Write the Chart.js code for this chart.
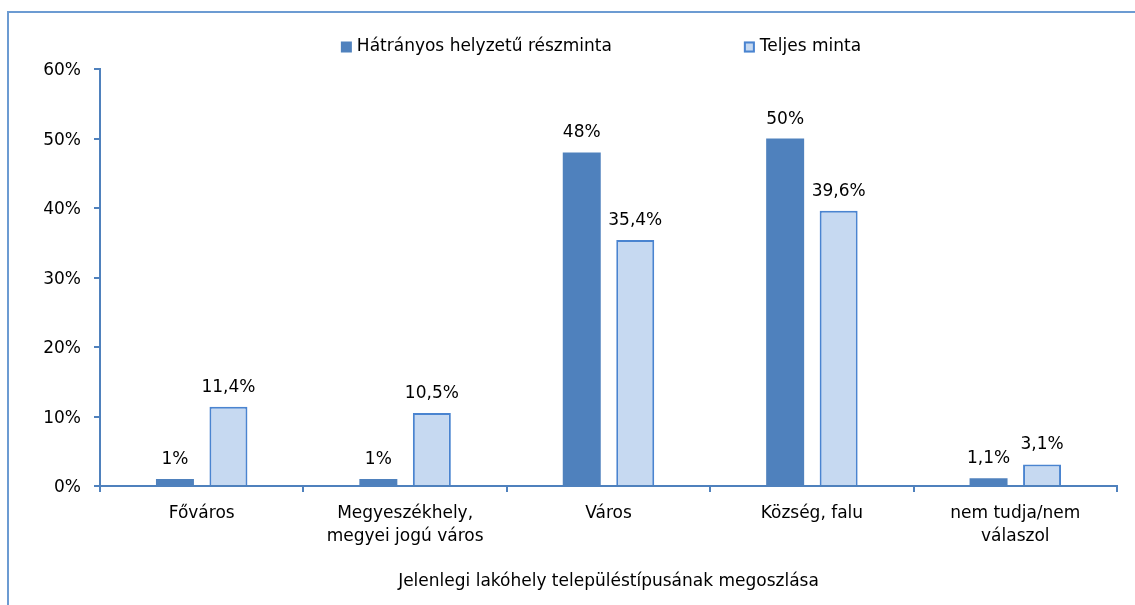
<!DOCTYPE html>
<html><head><meta charset="utf-8">
<script src="https://cdn.jsdelivr.net/npm/chart.js@4/dist/chart.umd.min.js"></script>
<style>
html,body{margin:0;padding:0;background:#fff;overflow:hidden}
#wrap{position:relative;width:1135px;height:605px;overflow:hidden}
#frame{position:absolute;left:7px;top:11px;width:1300px;height:800px;border-top:2px solid #6c9bd2;border-left:2px solid #6c9bd2;box-sizing:border-box}
canvas{position:absolute;left:0;top:0}
</style></head>
<body><div id="wrap"><div id="frame"></div><canvas id="c" width="1135" height="605"></canvas></div>
<script>
const categories = ["Főváros", ["Megyeszékhely,", "megyei jogú város"], "Város", "Község, falu", ["nem tudja/nem", "válaszol"]];
const seriesNames = ["Hátrányos helyzetű részminta", "Teljes minta"];
const disadvantaged = [1, 1, 48, 50, 1.1];
const fullSample = [11.4, 10.5, 35.4, 39.6, 3.1];
const yMin = 0, yMax = 60, yStep = 10;
const axisTitle = "Jelenlegi lakóhely településtípusának megoszlása";

const FONT = "'DejaVu Sans', Verdana, sans-serif";
const FS = 17;
const fmt = v => String(v).replace('.', ',') + '%';

const dataLabels = {
  id: 'dataLabels',
  afterDatasetsDraw(chart) {
    const ctx = chart.ctx;
    ctx.save();
    ctx.font = FS + "px " + FONT;
    ctx.fillStyle = '#000';
    ctx.textAlign = 'center';
    ctx.textBaseline = 'alphabetic';
    chart.data.datasets.forEach((ds, i) => {
      chart.getDatasetMeta(i).data.forEach((el, j) => {
        ctx.fillText(fmt(ds.data[j]), el.x, el.y - 15);
      });
    });
    ctx.restore();
  }
};

const manualLegend = {
  id: 'manualLegend',
  afterDraw(chart) {
    const ctx = chart.ctx;
    ctx.save();
    ctx.font = FS + "px " + FONT;
    const sq = 11, gap = 5, itemGap = 132;
    const w = seriesNames.map(t => ctx.measureText(t).width);
    const total = sq + gap + w[0] + itemGap + sq + gap + w[1];
    let x = 601 - total / 2;
    const cy = 47;
    chart.data.datasets.forEach((ds, i) => {
      ctx.fillStyle = ds.backgroundColor;
      ctx.fillRect(x, cy - sq / 2, sq, sq);
      if (ds.borderWidth) {
        ctx.strokeStyle = ds.borderColor;
        ctx.lineWidth = 2;
        ctx.strokeRect(x + 1, cy - sq / 2 + 1, sq - 2, sq - 2);
      }
      ctx.fillStyle = '#000';
      ctx.textBaseline = 'middle';
      ctx.textAlign = 'left';
      ctx.fillText(seriesNames[i], x + sq + gap, cy);
      x += sq + gap + w[i] + itemGap;
    });
    ctx.restore();
  }
};

new Chart(document.getElementById('c'), {
  type: 'bar',
  data: {
    labels: categories,
    datasets: [
      { label: seriesNames[0], data: disadvantaged, backgroundColor: '#4f81bd', borderWidth: 0,
        categoryPercentage: 0.526, barPercentage: 0.71 },
      { label: seriesNames[1], data: fullSample, backgroundColor: '#c6d9f1', borderColor: '#4a84d0', borderWidth: 2,
        categoryPercentage: 0.526, barPercentage: 0.71 }
    ]
  },
  options: {
    responsive: false,
    animation: false,
    events: [],
    layout: { padding: { top: 69, right: 18, left: 0, bottom: 0 } },
    plugins: { legend: { display: false }, tooltip: { enabled: false } },
    scales: {
      x: {
        offset: true,
        grid: { display: true, offset: true, drawOnChartArea: false, drawTicks: true, tickLength: 6, color: '#4f81bd', lineWidth: 2 },
        border: { display: true, color: '#4f81bd', width: 2 },
        ticks: { color: '#000', font: { family: FONT, size: FS, lineHeight: 1.3 }, padding: 11, maxRotation: 0, autoSkip: false },
        title: { display: true, text: axisTitle, color: '#000', font: { family: FONT, size: FS }, padding: { top: 0, bottom: 13 } },
        afterFit(s) { s.height = 119; }
      },
      y: {
        min: yMin, max: yMax,
        grid: { drawOnChartArea: false, drawTicks: true, tickLength: 6, color: '#4f81bd', lineWidth: 2 },
        border: { display: true, color: '#4f81bd', width: 2 },
        ticks: { stepSize: yStep, callback: v => v + '%', color: '#000', font: { family: FONT, size: FS }, padding: 13, labelOffset: 2 },
        afterFit(s) { s.width = 100; }
      }
    }
  },
  plugins: [dataLabels, manualLegend]
});
</script>
</body></html>
